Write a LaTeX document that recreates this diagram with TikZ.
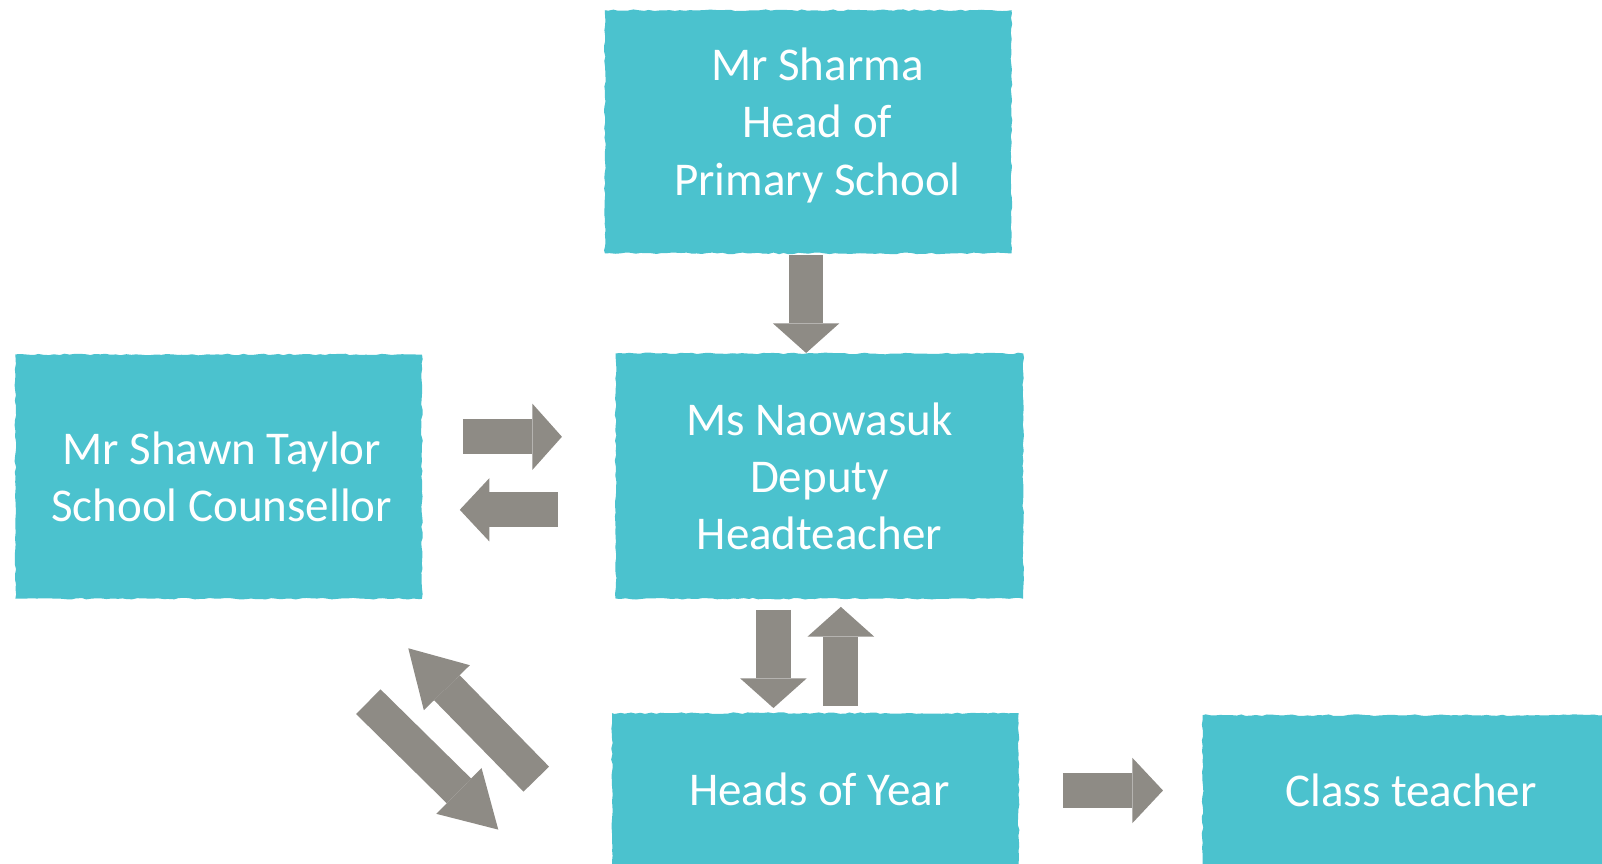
\documentclass[tikz,border=0pt]{standalone}
\usepackage{fontspec}
\setmainfont{Carlito}
\usetikzlibrary{arrows.meta,decorations.pathmorphing}
\definecolor{boxteal}{RGB}{75,194,206}
\definecolor{arrowgray}{RGB}{142,139,133}
\begin{document}
\begin{tikzpicture}[x=1pt,y=-1pt,
  box/.style={fill=boxteal, text=white, align=center, inner sep=0pt,
    font=\fontsize{46}{56}\selectfont, decorate,
    decoration={random steps, segment length=5pt, amplitude=0.8pt}},
  blk/.style={draw=arrowgray, line width=34pt, line cap=butt},
  sharp/.style={-{Triangle[width=65pt,length=29pt,line width=0pt]}},
  diag/.style={-{Triangle[width=63pt,length=54pt,line width=0pt]}}]
\pgfmathsetseed{7}
\useasboundingbox (0,0) rectangle (1568,844.7);
% boxes
\node[box, minimum width=398pt, minimum height=238pt, text depth=20pt] (sharma) at (791,129)
  {\hspace*{18pt}Mr Sharma\\\hspace*{18pt}Head of\\\hspace*{18pt}Primary School};
\node[box, minimum width=398pt, minimum height=239pt] (counsellor) at (214,466.5)
  {\hspace*{6pt}Mr Shawn Taylor\\\hspace*{6pt}School Counsellor};
\node[box, minimum width=399pt, minimum height=240pt] (deputy) at (802,466)
  {Ms Naowasuk\\Deputy\\Headteacher};
\node[box, minimum width=398pt, minimum height=150pt] (hoy) at (798,773)
  {\hspace*{8pt}Heads of Year};
\node[box, minimum width=408pt, minimum height=148pt] (class) at (1381,774)
  {Class teacher};
% arrow end points
\coordinate (a1t) at (789,249.6);  \coordinate (a1h) at (789,345.5);
\coordinate (a2t) at (453,427.5);  \coordinate (a2h) at (550,427.5);
\coordinate (a3t) at (546,499);    \coordinate (a3h) at (450,499);
\coordinate (a4t) at (757,597);    \coordinate (a4h) at (757,693);
\coordinate (a5t) at (823,691);    \coordinate (a5h) at (823,594);
\coordinate (a6t) at (524.9,762.6); \coordinate (a6h) at (399.6,634.5);
\coordinate (a7t) at (360.5,686.8); \coordinate (a7h) at (487.7,812);
\coordinate (a8t) at (1040.4,773.7); \coordinate (a8h) at (1138.3,773.7);
% arrows
\draw[blk, sharp] (a1t) -- (a1h);
\draw[blk, sharp] (a2t) -- (a2h);
\draw[blk, -{Triangle[width=62pt,length=29pt,line width=0pt]}] (a3t) -- (a3h);
\draw[blk, sharp] (a4t) -- (a4h);
\draw[blk, sharp] (a5t) -- (a5h);
\draw[blk, diag, line width=35pt] (a6t) -- (a6h);
\draw[blk, diag] (a7t) -- (a7h);
\draw[blk, -{Triangle[width=64pt,length=30pt,line width=0pt]}] (a8t) -- (a8h);
\end{tikzpicture}
\end{document}
